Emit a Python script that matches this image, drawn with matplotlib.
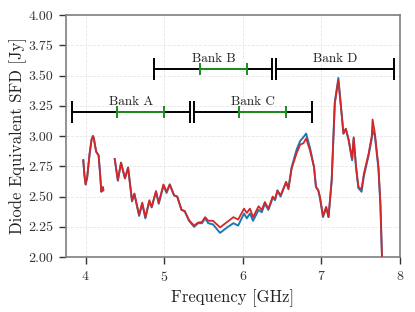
import numpy as np
import matplotlib
matplotlib.use("Agg")
import matplotlib.pyplot as plt
from matplotlib.ticker import FormatStrFormatter

plt.rcParams['font.family'] = ['cmr10', 'DejaVu Serif']
plt.rcParams['axes.formatter.use_mathtext'] = True
plt.rcParams['mathtext.fontset'] = 'cm'

# ---- data ----
freq = [3.97, 3.985, 4.00, 4.02, 4.05, 4.075, 4.093, 4.105, 4.12, 4.135, 4.165, 4.18, 4.20, 4.21, 4.22, 4.225,
        np.nan,
        4.37, 4.41, 4.45, 4.50, 4.54, 4.59, 4.62, 4.68, 4.72, 4.76, 4.81, 4.84, 4.895, 4.93, 4.99, 5.03, 5.07,
        5.125, 5.165, 5.22, 5.26, 5.315, 5.38, 5.43, 5.48, 5.52, 5.56, 5.62, 5.71, 5.80, 5.88, 5.94, 6.015,
        6.05, 6.09, 6.13, 6.20, 6.24, 6.28, 6.325, 6.38, 6.41, 6.44, 6.48, 6.55, 6.58, 6.62, 6.685, 6.73,
        6.77, 6.805, 6.855, 6.905, 6.93, 6.96, 6.98, 7.02, 7.06, 7.09, 7.13, 7.17, 7.215, 7.26, 7.28, 7.31,
        7.345, 7.39, 7.41, 7.44, 7.47, 7.51, 7.54, 7.60, 7.64, 7.65, 7.68, 7.725, 7.75, 7.77, 7.78]

sfd_red = [2.80, 2.68, 2.60, 2.66, 2.85, 2.97, 3.00, 2.98, 2.92, 2.87, 2.84, 2.72, 2.54, 2.56, 2.58, 2.56,
           np.nan,
           2.81, 2.635, 2.78, 2.65, 2.74, 2.47, 2.525, 2.35, 2.45, 2.33, 2.47, 2.415, 2.545, 2.45, 2.60, 2.54, 2.60,
           2.51, 2.50, 2.39, 2.38, 2.305, 2.26, 2.285, 2.29, 2.33, 2.30, 2.30, 2.245, 2.29, 2.33, 2.31, 2.40,
           2.365, 2.40, 2.33, 2.42, 2.39, 2.455, 2.40, 2.50, 2.48, 2.55, 2.51, 2.62, 2.56, 2.73, 2.86, 2.93,
           2.94, 2.98, 2.88, 2.745, 2.58, 2.55, 2.50, 2.34, 2.415, 2.33, 2.635, 3.27, 3.46, 3.16, 3.02, 3.06,
           2.97, 2.81, 2.99, 2.745, 2.58, 2.56, 2.69, 2.855, 3.00, 3.137, 3.02, 2.745, 2.44, 2.00, 1.80]

sfd_blue = [2.80, 2.67, 2.60, 2.66, 2.85, 2.97, 3.00, 2.98, 2.92, 2.87, 2.84, 2.72, 2.54, 2.56, 2.57, 2.55,
            np.nan,
            2.81, 2.63, 2.78, 2.65, 2.74, 2.46, 2.52, 2.34, 2.44, 2.32, 2.46, 2.41, 2.54, 2.44, 2.59, 2.53, 2.60,
            2.51, 2.50, 2.39, 2.38, 2.30, 2.25, 2.28, 2.28, 2.32, 2.28, 2.27, 2.20, 2.245, 2.28, 2.26, 2.36,
            2.32, 2.36, 2.30, 2.39, 2.37, 2.44, 2.39, 2.49, 2.47, 2.55, 2.50, 2.62, 2.57, 2.74, 2.89, 2.96,
            2.99, 3.02, 2.90, 2.745, 2.58, 2.55, 2.49, 2.33, 2.41, 2.33, 2.63, 3.28, 3.48, 3.16, 3.02, 3.06,
            2.97, 2.80, 2.98, 2.74, 2.57, 2.54, 2.67, 2.84, 2.98, 3.05, 3.00, 2.73, 2.43, 2.00, 1.80]

bank_names = ["Bank A", "Bank B", "Bank C", "Bank D"]
bank_start = [3.825, 4.875, 5.375, 6.425]
bank_end = [5.325, 6.375, 6.875, 7.925]
bank_y = [3.20, 3.55, 3.20, 3.55]
green_start = [4.40, 5.45, 5.95, None]
green_end = [5.00, 6.05, 6.55, None]

# ---- figure ----
fig = plt.figure(figsize=(4.15, 3.12), dpi=100)
ax = fig.add_axes([0.159, 0.176, 0.805, 0.776])

ax.grid(True, color='#e6e6e6', linestyle='--', linewidth=0.6)
ax.set_axisbelow(True)

ax.plot(freq, sfd_blue, color='#1f77b4', lw=1.4, zorder=2)
ax.plot(freq, sfd_red, color='#d62728', lw=1.3, zorder=3)

for name, s, e, y, gs, ge in zip(bank_names, bank_start, bank_end, bank_y, green_start, green_end):
    ax.plot([s, e], [y, y], color='black', lw=1.4, zorder=4)
    ax.plot([s, e], [y, y], color='black', lw=0, marker='|', markersize=16, markeredgewidth=1.4, zorder=4)
    if gs is not None:
        ax.plot([gs, ge], [y, y], color='#1e8c1e', lw=1.4, zorder=5)
        ax.plot([gs, ge], [y, y], color='#1e8c1e', lw=0, marker='|', markersize=8.5,
                markeredgewidth=1.4, zorder=5)
    ax.text((s + e) / 2, y + 0.035, name, ha='center', va='bottom', fontsize=9.5, color='#222222')

ax.set_xlim(3.75, 8.0)
ax.set_ylim(2.0, 4.0)
ax.set_xticks([4, 5, 6, 7, 8])
ax.set_yticks(np.arange(2.0, 4.01, 0.25))
ax.yaxis.set_major_formatter(FormatStrFormatter('%.2f'))

for sp in ax.spines.values():
    sp.set_color('#7f7f7f')
    sp.set_linewidth(1.2)
ax.tick_params(axis='both', direction='out', length=5, width=1.0, color='#333333',
               labelsize=10, labelcolor='#333333', pad=4)

ax.set_xlabel('Frequency [GHz]', fontsize=12, color='#222222')
ax.set_ylabel('Diode Equivalent SFD [Jy]', fontsize=12, color='#222222', labelpad=1)

fig.savefig('out.png', dpi=100)
